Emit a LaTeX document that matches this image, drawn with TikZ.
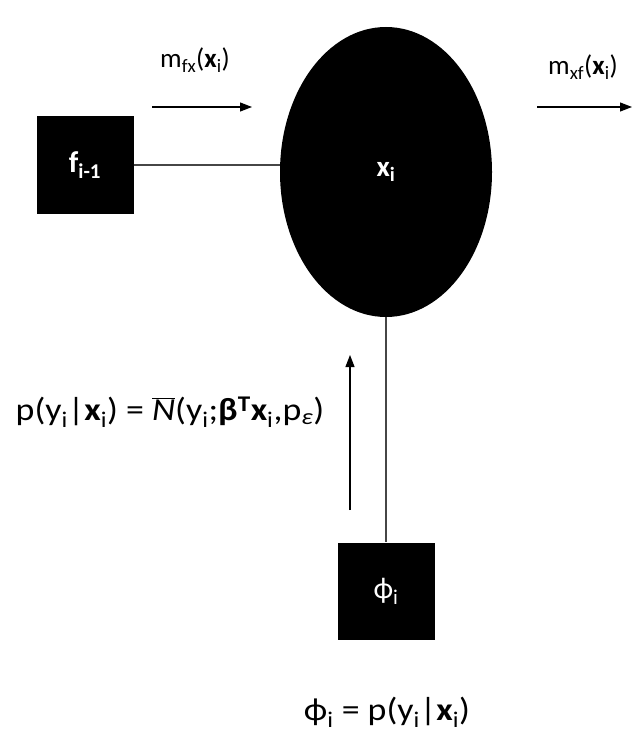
\documentclass[tikz,border=0pt]{standalone}
\usepackage{fontspec}
\setmainfont{Carlito}
\usepackage{graphicx}
\usepackage{tikz}
\usetikzlibrary{shapes.geometric, arrows.meta, positioning}
\definecolor{linegray}{RGB}{70, 70, 70}
\newcommand{\barN}{\ensuremath{\overline{\mbox{\itshape N}}}}
\newcommand{\widetext}[1]{\scalebox{1.12}[1]{#1}}

\begin{document}
\begin{tikzpicture}[x=1pt, y=-1pt,
    varnode/.style={ellipse, fill=black, minimum width=212pt, minimum height=290pt,
                    inner sep=0pt, font=\fontsize{29}{34}\selectfont\bfseries, text=white},
    factor/.style={rectangle, fill=black, minimum size=97pt, inner sep=0pt,
                   font=\fontsize{30}{34}\selectfont, text=white},
    msg/.style={font=\fontsize{27}{32}\selectfont},
    eqn/.style={font=\fontsize{32}{36}\selectfont},
    link/.style={draw=linegray, line width=1.3pt},
    flow/.style={-{Triangle[length=12pt, width=9pt]}, line width=1.2pt}
]
    \useasboundingbox (0,0) rectangle (632,733);

    % nodes
    \node[varnode] (xi) at (386,172) {x\textsubscript{i}};
    \node[factor] (fprev) at (85,165) {\textbf{f\textsubscript{i-1}}};
    \node[factor] (phi) at (386,591) {ϕ\textsubscript{i}};

    % links
    \draw[link] (fprev.east) -- (fprev.east -| xi.west);
    \draw[link] (xi.south) -- (phi.north);

    % message arrows
    \coordinate (m1s) at (152,107);
    \coordinate (m1e) at (252,107);
    \coordinate (m2s) at (537,107);
    \coordinate (m2e) at (632,107);
    \coordinate (m3s) at (350,510);
    \coordinate (m3e) at (350,355);
    \draw[flow] (m1s) -- (m1e);
    \draw[flow] (m2s) -- (m2e);
    \draw[flow] (m3s) -- (m3e);

    % labels
    \node[msg] (mfx) at (195,60) {m\textsubscript{fx}(\textbf{x}\textsubscript{i})};
    \node[msg] (mxf) at (583,67) {m\textsubscript{xf}(\textbf{x}\textsubscript{i})};
    \node[eqn] (lik) at (170,412)
        {\widetext{p(y\textsubscript{i}|\textbf{x}\textsubscript{i}) = \barN(y\textsubscript{i};\textbf{β\textsuperscript{T}x}\textsubscript{i},p\textsubscript{\textit{ε}})}};
    \node[eqn] (phidef) at (387,712) {\widetext{ϕ\textsubscript{i} = p(y\textsubscript{i}|\textbf{x}\textsubscript{i})}};
\end{tikzpicture}
\end{document}
